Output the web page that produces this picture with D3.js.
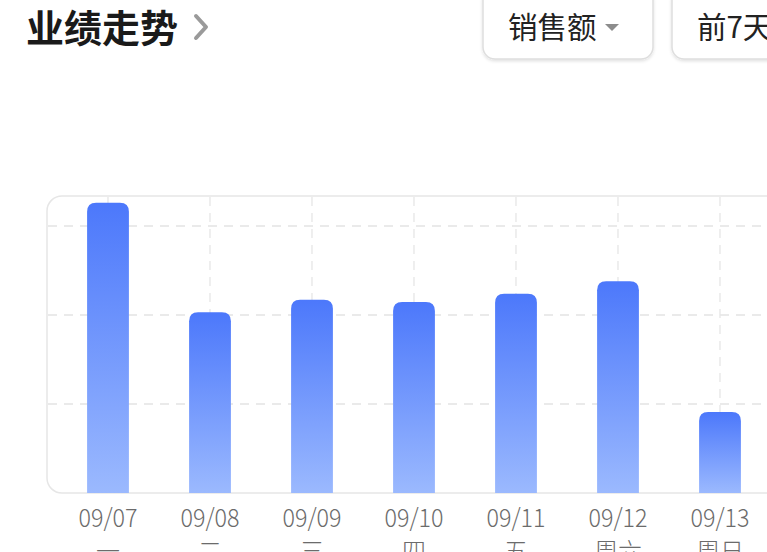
<!DOCTYPE html>
<html>
<head>
<meta charset="utf-8">
<script src="https://cdn.jsdelivr.net/npm/d3@7"></script>
<style>
  html, body { margin: 0; padding: 0; background: #fff; overflow: hidden; }
  svg { display: block; font-family: "Noto Sans CJK SC", "Noto Sans", sans-serif; }
</style>
</head>
<body>
<svg id="chart" width="767" height="552"></svg>
<script>
// 日期与星期
const dates = ['09/07', '09/08', '09/09', '09/10', '09/11', '09/12', '09/13'];
const weekdays = ['一', '二', '三', '四', '五', '周六', '周日'];
// 销售额（估读）
const sales = [3260, 2030, 2170, 2145, 2240, 2380, 910];
const yTicks = [0, 1000, 2000, 3000];

const svg = d3.select('#chart');
const width = 767;

// 标题
svg.append('text')
  .attr('x', 26)
  .attr('y', 42)
  .attr('font-size', 38)
  .attr('font-weight', 700)
  .attr('fill', '#1a1a1a')
  .text('业绩走势');

svg.append('path')
  .attr('d', 'M196,16 L206,27 L196,38')
  .attr('fill', 'none')
  .attr('stroke', '#9a9a9a')
  .attr('stroke-width', 4)
  .attr('stroke-linecap', 'round')
  .attr('stroke-linejoin', 'round');

// 顶部按钮
const defs = svg.append('defs');
const shadow = defs.append('filter')
  .attr('id', 'btnShadow')
  .attr('x', '-10%').attr('y', '-10%')
  .attr('width', '120%').attr('height', '130%');
shadow.append('feDropShadow')
  .attr('dx', 0).attr('dy', 1.5)
  .attr('stdDeviation', 1.5)
  .attr('flood-color', '#000')
  .attr('flood-opacity', 0.12);

const buttons = [
  { x: 483, w: 170, label: '销售额', arrow: true },
  { x: 672, w: 130, label: '前7天', arrow: false }
];

buttons.forEach((b) => {
  svg.append('rect')
    .attr('x', b.x)
    .attr('y', -12)
    .attr('width', b.w)
    .attr('height', 71)
    .attr('rx', 12)
    .attr('fill', '#fff')
    .attr('stroke', '#dedede')
    .attr('stroke-width', 1.5)
    .attr('filter', 'url(#btnShadow)');
  svg.append('text')
    .attr('x', b.x + 25)
    .attr('y', 38)
    .attr('font-size', 29.5)
    .attr('fill', '#222')
    .text(b.label);
  if (b.arrow) {
    svg.append('path')
      .attr('d', `M${b.x + 122},24 L${b.x + 136},24 L${b.x + 129},31 Z`)
      .attr('fill', '#8c8c8c');
  }
});

// 图表区域
const box = { left: 47, top: 196, right: 800, bottom: 493 };
const plotTop = box.top;

const x = d3.scaleBand()
  .domain(dates)
  .range([57, 57 + 102 * dates.length])
  .paddingInner(0.59)
  .paddingOuter(0.295);

const y = d3.scaleLinear()
  .domain([0, 3337])
  .range([box.bottom, plotTop]);

// 外框
svg.append('rect')
  .attr('x', box.left)
  .attr('y', box.top)
  .attr('width', box.right - box.left)
  .attr('height', box.bottom - box.top)
  .attr('rx', 15)
  .attr('fill', '#fff')
  .attr('stroke', '#e6e6e6')
  .attr('stroke-width', 1.5);

// 网格
const grid = svg.append('g').attr('class', 'grid');
grid.selectAll('line.h')
  .data(yTicks.slice(1))
  .enter()
  .append('line')
  .attr('class', 'h')
  .attr('x1', box.left + 1)
  .attr('x2', width)
  .attr('y1', d => y(d))
  .attr('y2', d => y(d))
  .attr('stroke', '#e3e3e3')
  .attr('stroke-width', 1.3)
  .attr('stroke-dasharray', '9 7');

grid.selectAll('line.v')
  .data(dates)
  .enter()
  .append('line')
  .attr('class', 'v')
  .attr('x1', d => x(d) + x.bandwidth() / 2)
  .attr('x2', d => x(d) + x.bandwidth() / 2)
  .attr('y1', box.top + 1)
  .attr('y2', box.bottom)
  .attr('stroke', '#e6e6e6')
  .attr('stroke-width', 1.3)
  .attr('stroke-dasharray', '9 7');

// 渐变
const grad = defs.append('linearGradient')
  .attr('id', 'barGrad')
  .attr('x1', 0).attr('y1', 0)
  .attr('x2', 0).attr('y2', 1);
grad.append('stop').attr('offset', '0%').attr('stop-color', '#4c78fb');
grad.append('stop').attr('offset', '100%').attr('stop-color', '#9bb9fe');

// 顶部圆角柱
const r = 9;
const barPath = (d, i) => {
  const x0 = x(dates[i]);
  const x1 = x0 + x.bandwidth();
  const y0 = y(d);
  const y1 = box.bottom;
  return `M${x0},${y1} L${x0},${y0 + r} Q${x0},${y0} ${x0 + r},${y0} `
    + `L${x1 - r},${y0} Q${x1},${y0} ${x1},${y0 + r} L${x1},${y1} Z`;
};

svg.append('g')
  .attr('class', 'bars')
  .selectAll('path')
  .data(sales)
  .enter()
  .append('path')
  .attr('d', barPath)
  .attr('fill', 'url(#barGrad)');

// 坐标轴标签
const labels = svg.append('g').attr('class', 'labels');
labels.selectAll('text.date')
  .data(dates)
  .enter()
  .append('text')
  .attr('class', 'date')
  .attr('x', d => x(d) + x.bandwidth() / 2)
  .attr('y', 527)
  .attr('text-anchor', 'middle')
  .attr('font-size', 25)
  .attr('font-weight', 300)
  .attr('textLength', 59)
  .attr('lengthAdjust', 'spacingAndGlyphs')
  .attr('fill', '#6b6b6b')
  .text(d => d);

labels.selectAll('text.week')
  .data(weekdays)
  .enter()
  .append('text')
  .attr('class', 'week')
  .attr('x', (d, i) => x(dates[i]) + x.bandwidth() / 2)
  .attr('y', 560)
  .attr('text-anchor', 'middle')
  .attr('font-size', 24)
  .attr('font-weight', 300)
  .attr('fill', '#6b6b6b')
  .text(d => d);
</script>
</body>
</html>
